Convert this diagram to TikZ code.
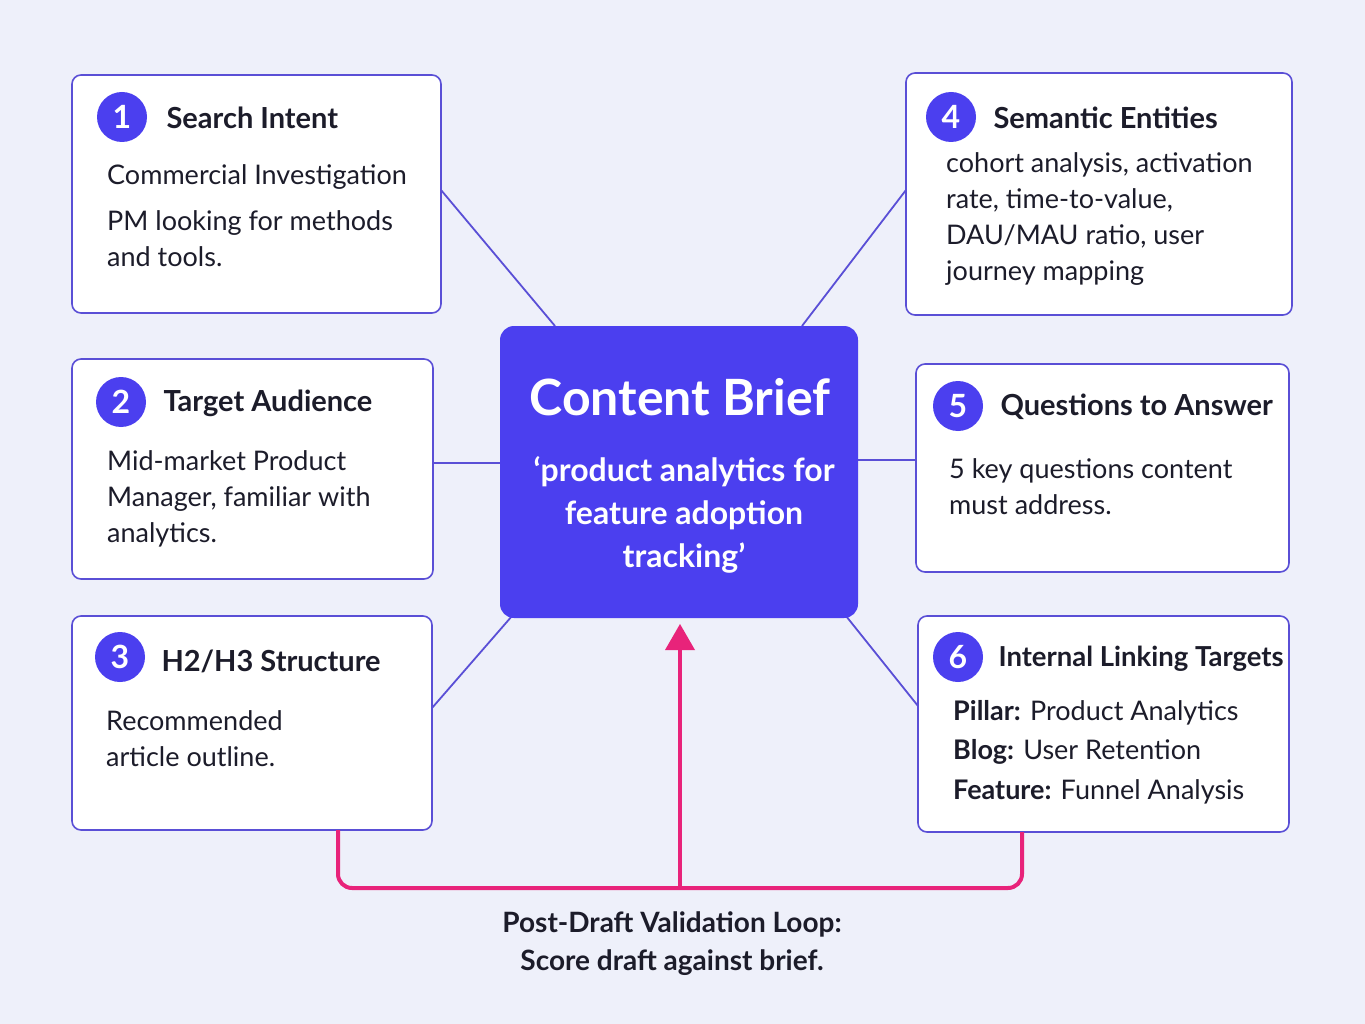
\documentclass[tikz,border=0pt]{standalone}
\usepackage{fontspec}
\setmainfont{Lato}
\definecolor{bg}{HTML}{EEF0FA}
\definecolor{vio}{HTML}{4B3FEF}
\definecolor{edge}{HTML}{5A4FD6}
\definecolor{pink}{HTML}{E8237A}
\definecolor{txt}{HTML}{1C1C2A}
\begin{document}
\begin{tikzpicture}[x=1pt,y=-1pt,
  box/.style={draw=edge,line width=1.6pt,fill=white,rounded corners=9pt},
  num/.style={circle,fill=vio,text=white,minimum size=50pt,inner sep=0pt,font=\fontsize{32}{32}\selectfont\bfseries},
  ttl/.style={anchor=west,text=txt,font=\fontsize{29}{32}\selectfont\bfseries},
  body/.style={anchor=north west,text=txt,align=left,font=\fontsize{27}{36}\selectfont,inner sep=0pt},
  con/.style={draw=edge,line width=1.8pt}]
\useasboundingbox[fill=bg] (0,0) rectangle (1365,1024);
% boxes
\draw[box] (72,75) rectangle (441,313);
\draw[box] (906,73) rectangle (1292,315);
\draw[box] (72,359) rectangle (433,579);
\draw[box] (916,364) rectangle (1289,572);
\draw[box] (72,616) rectangle (432,830);
\draw[box] (918,616) rectangle (1289,832);
% connectors
\coordinate (b1) at (441,190); \coordinate (c1) at (555,326);
\coordinate (b4) at (906,190); \coordinate (c4) at (802,326);
\coordinate (b2) at (433,463); \coordinate (c2) at (500,463);
\coordinate (b5) at (916,460); \coordinate (c5) at (858,460);
\coordinate (b3) at (432,708); \coordinate (c3) at (512,616);
\coordinate (b6) at (918,706); \coordinate (c6) at (846,616);
\draw[con] (b1)--(c1); \draw[con] (b4)--(c4); \draw[con] (b2)--(c2);
\draw[con] (b5)--(c5); \draw[con] (b3)--(c3); \draw[con] (b6)--(c6);
% center
\node[fill=vio,rounded corners=14pt,minimum width=358pt,minimum height=292pt] (center) at (679,472) {};
\node[text=white,font=\fontsize{50}{56}\selectfont\bfseries] (ct) at (680,397) {Content Brief};
\node[text=white,align=center,font=\fontsize{32}{43}\selectfont\bfseries] (cs) at (684,515) {‘product analytics for\\feature adoption\\tracking’};
% numbers & titles
\node[num] (n1) at (122,117) {1}; \node[ttl] at (163,118) {Search Intent};
\node[num] (n4) at (951,117) {4}; \node[ttl] at (990,118) {Semantic Entities};
\node[num] (n2) at (121,402) {2}; \node[ttl] at (160,403) {Target Audience};
\node[num] (n5) at (958,406) {5}; \node[ttl] at (997,407) {Questions to Answer};
\node[num] (n3) at (120,657) {3}; \node[ttl] at (158,661) {H2/H3 Structure};
\node[num] (n6) at (958,657) {6}; \node[ttl,font=\fontsize{27.5}{32}\selectfont\bfseries] at (995,659) {Internal Linking Targets};
% bodies
\node[body] at (107,164) {Commercial Investigation};
\node[body] at (107,210) {PM looking for methods\\and tools.};
\node[body] at (946,152) {cohort analysis, activation\\rate, time-to-value,\\DAU/MAU ratio, user\\journey mapping};
\node[body] at (107,450) {Mid-market Product\\Manager, familiar with\\analytics.};
\node[body] at (949,458) {5 key questions content\\must address.};
\node[body] at (106,710) {Recommended\\article outline.};
\node[body,font=\fontsize{27}{39.5}\selectfont] at (953,700) {\textbf{Pillar:} Product Analytics\\\textbf{Blog:} User Retention\\\textbf{Feature:} Funnel Analysis};
% loop
\coordinate (l1) at (338,830); \coordinate (l2) at (1022,832); \coordinate (lm) at (680,888);
\draw[pink,line width=4pt,rounded corners=14pt] (l1)--(338,888)--(1022,888)--(l2);
\draw[pink,line width=4pt] (lm)--(680,648);
\fill[pink] (680,624)--(695,650)--(665,650)--cycle;
\node[text=txt,align=center,font=\fontsize{28}{38}\selectfont\bfseries] (lab) at (672,944) {Post-Draft Validation Loop:\\Score draft against brief.};
\end{tikzpicture}
\end{document}
